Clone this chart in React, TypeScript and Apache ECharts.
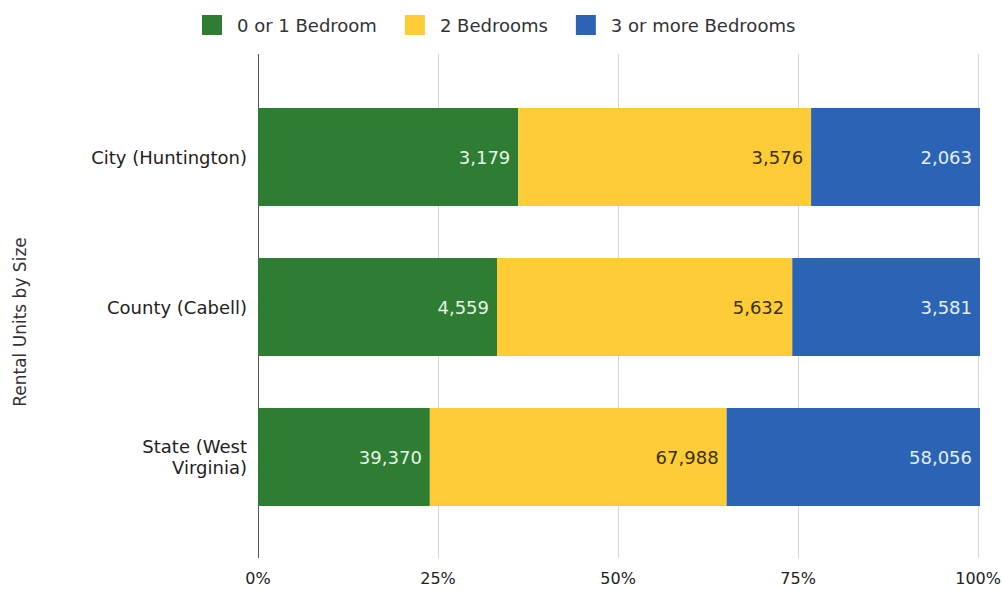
import React, { useEffect, useRef } from "react";
import * as echarts from "echarts";

const categories = ["City (Huntington)", "County (Cabell)", "State (West\nVirginia)"];
const seriesNames = ["0 or 1 Bedroom", "2 Bedrooms", "3 or more Bedrooms"];
const oneBedroom = [3179, 4559, 39370];
const twoBedrooms = [3576, 5632, 67988];
const threePlus = [2063, 3581, 58056];
const tickLabels = ["0%", "25%", "50%", "75%", "100%"];

const colors = ["#2e7d32", "#fdcc37", "#2b64b4"];
const labelColors = ["#e6f4e6", "#3b3000", "#e4edf9"];

export default function App() {
  const ref = useRef<HTMLDivElement>(null);
  useEffect(() => {
    document.body.style.margin = "0";
    const chart = echarts.init(ref.current!, null, { renderer: "svg" });
    const raw = [oneBedroom, twoBedrooms, threePlus];
    const totals = categories.map((_, i) => raw.reduce((s, arr) => s + arr[i], 0));
    const font = "'DejaVu Sans', sans-serif";
    const series: any[] = raw.map((arr, si) => ({
      name: seriesNames[si],
      type: "bar",
      stack: "total",
      xAxisIndex: 0,
      yAxisIndex: 0,
      barWidth: 98,
      itemStyle: { color: colors[si] },
      label: {
        show: true,
        position: "insideRight",
        distance: 8,
        color: labelColors[si],
        fontSize: 18,
        fontFamily: font,
        formatter: (p: any) => p.data.raw.toLocaleString("en-US"),
      },
      data: arr.map((v, i) => ({ value: (v / totals[i]) * 100, raw: v })),
    }));
    series.push({
      type: "bar",
      xAxisIndex: 1,
      yAxisIndex: 1,
      data: [],
      silent: true,
    });
    chart.setOption({
      animation: false,
      textStyle: { fontFamily: font },
      legend: {
        data: seriesNames,
        top: 10,
        left: 197,
        itemWidth: 20,
        itemHeight: 20,
        itemGap: 28,
        icon: "rect",
        textStyle: { fontSize: 18, color: "#333", fontFamily: font, padding: [0, 0, 0, 10] },
      },
      grid: [
        { left: 258, right: 24, top: 82, bottom: 58 },
        { left: 258, right: 24, top: 54, bottom: 32 },
      ],
      xAxis: [
        {
          gridIndex: 0,
          type: "value",
          min: 0,
          max: 100,
          interval: 25,
          show: false,
          splitLine: { show: false },
        },
        {
          gridIndex: 1,
          type: "value",
          min: 0,
          max: 100,
          interval: 25,
          axisLine: { show: false },
          axisTick: { show: false },
          axisLabel: {
            fontSize: 16,
            color: "#222",
            margin: 12,
            fontFamily: font,
            formatter: (v: number) => tickLabels[Math.round(v / 25)],
          },
          splitLine: {
            show: true,
            lineStyle: { color: ["#555", "#d6d6d6", "#d6d6d6", "#d6d6d6", "#d6d6d6"], width: 1 },
          },
        },
      ],
      yAxis: [
        {
          gridIndex: 0,
          type: "category",
          data: categories,
          inverse: true,
          axisLine: { show: false },
          axisTick: { show: false },
          axisLabel: {
            fontSize: 18,
            color: "#222",
            margin: 11,
            lineHeight: 21,
            fontFamily: font,
          },
        },
        {
          gridIndex: 1,
          type: "value",
          min: 0,
          max: 1,
          show: false,
          splitLine: { show: false },
        },
      ],
      graphic: [
        {
          type: "text",
          x: 20,
          y: 322,
          rotation: Math.PI / 2,
          style: {
            text: "Rental Units by Size",
            fontSize: 17,
            fill: "#333",
            fontFamily: font,
            align: "center",
            verticalAlign: "middle",
          },
        },
      ],
      series,
    });
    return () => chart.dispose();
  }, []);
  return <div ref={ref} style={{ width: 1004, height: 590 }} />;
}
